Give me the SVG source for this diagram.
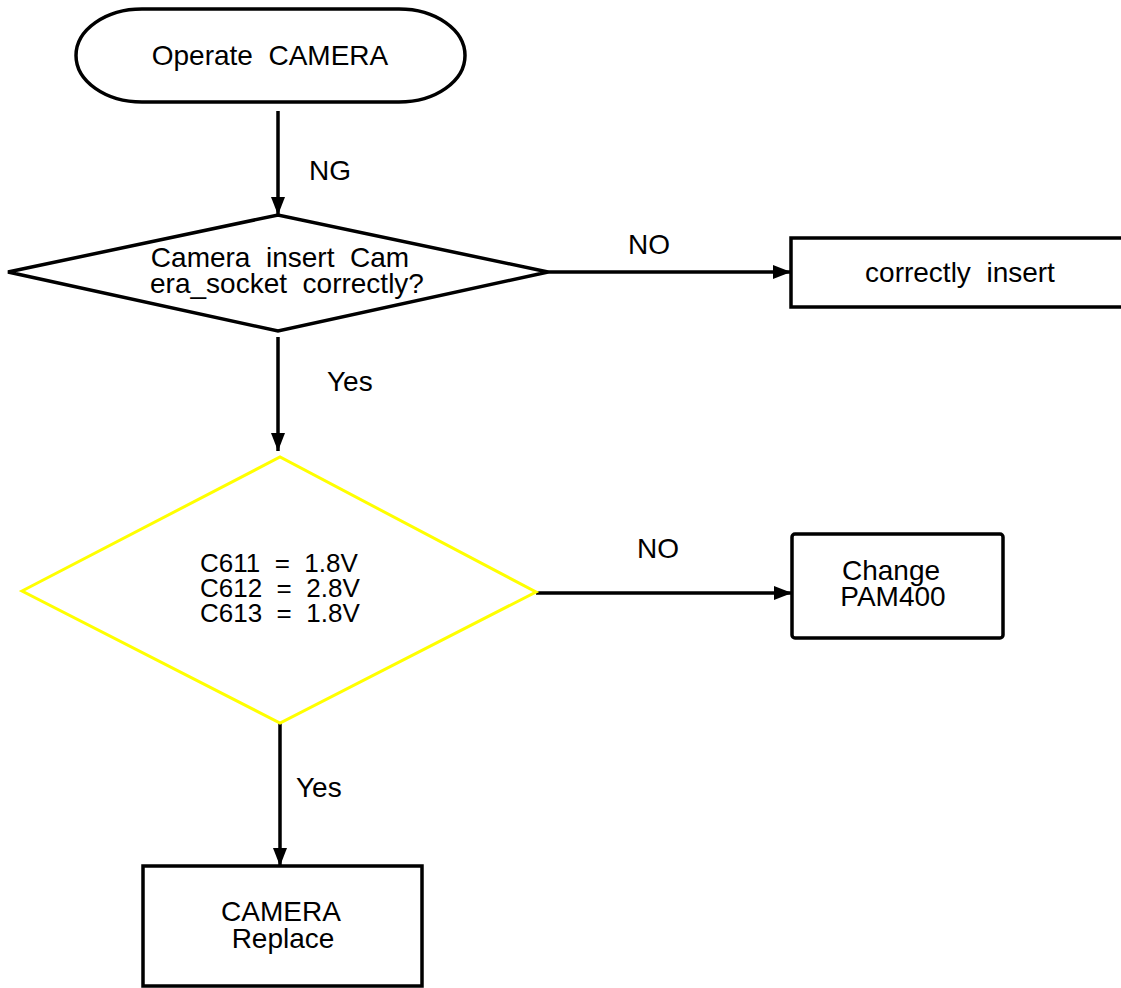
<svg xmlns="http://www.w3.org/2000/svg" width="1121" height="988" viewBox="0 0 1121 988">
<style>
.t{font-family:"Liberation Sans",Arial,sans-serif;font-size:28px;fill:#000;white-space:pre}
.s{font-family:"Liberation Sans",Arial,sans-serif;font-size:26px;fill:#000;white-space:pre}
.k{fill:#fff;stroke:#000;stroke-width:3.5}
.y{fill:#fff;stroke:#ffff00;stroke-width:3}
.c{fill:none;stroke:#000;stroke-width:3.5}
</style>
<defs>
<marker id="ah" markerUnits="userSpaceOnUse" markerWidth="20" markerHeight="14" refX="18" refY="7" orient="auto">
<path d="M0,0 L18,7 L0,14 Z" fill="#000"/>
</marker>
</defs>
<rect width="1121" height="988" fill="#fff"/>
<g id="connectors">
<line class="c" x1="278" y1="111" x2="278" y2="215" marker-end="url(#ah)"/>
<text class="t" x="309" y="180">NG</text>
<line class="c" x1="548" y1="272" x2="791" y2="272" marker-end="url(#ah)"/>
<text class="t" x="628" y="254">NO</text>
<line class="c" x1="278" y1="337" x2="278" y2="451" marker-end="url(#ah)"/>
<text class="t" x="327" y="391">Yes</text>
<line class="c" x1="536" y1="593" x2="792" y2="593" marker-end="url(#ah)"/>
<text class="t" x="637" y="558">NO</text>
<line class="c" x1="280" y1="715" x2="280" y2="866" marker-end="url(#ah)"/>
<text class="t" x="296" y="797">Yes</text>
</g>
<g id="start">
<path class="k" d="M142,9 H399 A66,46.5 0 0 1 399,102 H142 A66,46.5 0 0 1 142,9 Z"/>
<text class="t" x="270" y="65" text-anchor="middle">Operate  CAMERA</text>
</g>
<g id="check-socket">
<polygon class="k" points="8,272 278,215 548,272 278,331"/>
<text class="t" x="280" y="267" text-anchor="middle">Camera  insert  Cam</text>
<text class="t" x="287" y="293" text-anchor="middle">era_socket  correctly?</text>
</g>
<g id="correctly-insert">
<rect class="k" x="791" y="238" width="340" height="69"/>
<text class="t" x="960" y="282" text-anchor="middle">correctly  insert</text>
</g>
<g id="check-voltage">
<polygon class="y" points="22,591 280,457 536,592 280,723"/>
<text class="s" x="200" y="572">C611  =  1.8V</text>
<text class="s" x="200" y="597">C612  =  2.8V</text>
<text class="s" x="200" y="622">C613  =  1.8V</text>
</g>
<g id="change-pam400">
<rect class="k" x="792" y="534" width="211" height="104" rx="3"/>
<text class="t" x="891" y="580" text-anchor="middle">Change</text>
<text class="t" x="893" y="606" text-anchor="middle">PAM400</text>
</g>
<g id="camera-replace">
<rect class="k" x="143" y="866" width="279" height="120"/>
<text class="t" x="281" y="921" text-anchor="middle">CAMERA</text>
<text class="t" x="283" y="948" text-anchor="middle">Replace</text>
</g>
</svg>
